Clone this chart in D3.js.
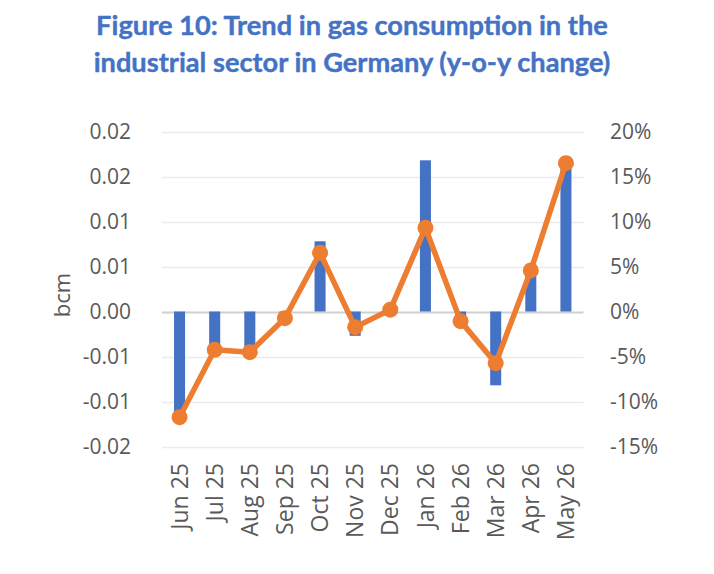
<!DOCTYPE html>
<html>
<head>
<meta charset="utf-8">
<script src="https://cdn.jsdelivr.net/npm/d3@7"></script>
<style>
  html, body { margin: 0; padding: 0; background: #ffffff; }
  svg { display: block; }
</style>
</head>
<body>
<svg id="chart" width="714" height="574"></svg>
<script>
// ---- Data ----
const titleLines = [
  "Figure 10: Trend in gas consumption in the",
  "industrial sector in Germany (y-o-y change)"
];
const months = ["Jun 25", "Jul 25", "Aug 25", "Sep 25", "Oct 25", "Nov 25",
                "Dec 25", "Jan 26", "Feb 26", "Mar 26", "Apr 26", "May 26"];
// y-o-y change in bcm (bars, left axis)
const bcmChange = [-0.0113, -0.0042, -0.0042, -0.0005, 0.0078, -0.0027,
                   0.0003, 0.0168, -0.0010, -0.0082, 0.0045, 0.0163];
// y-o-y change in % (line, right axis)
const pctChange = [-0.1174, -0.0426, -0.0452, -0.0074, 0.0652, -0.0174,
                   0.0020, 0.0930, -0.0107, -0.0574, 0.0456, 0.1648];
const leftTicks = [-0.015, -0.01, -0.005, 0, 0.005, 0.01, 0.015, 0.02];
const leftTickLabels = ["-0.02", "-0.01", "-0.01", "0.00", "0.01", "0.01", "0.02", "0.02"];
const rightTicks = [-0.15, -0.10, -0.05, 0, 0.05, 0.10, 0.15, 0.20];
const rightTickLabels = ["-15%", "-10%", "-5%", "0%", "5%", "10%", "15%", "20%"];
const leftAxisTitle = "bcm";

// ---- Layout ----
const svg = d3.select("#chart");
const plot = { left: 162, right: 583.5, top: 131.5, bottom: 446.5 };
const barColor = "#4472C4";
const lineColor = "#ED7D31";
const textColor = "#595959";
const axisFont = "'Open Sans', 'DejaVu Sans', sans-serif";

const x = d3.scaleBand()
  .domain(months)
  .range([plot.left, plot.right])
  .paddingInner(0.686)
  .paddingOuter(0.343);

const yL = d3.scaleLinear().domain([-0.015, 0.02]).range([plot.bottom, plot.top]);
const yR = d3.scaleLinear().domain([-0.15, 0.20]).range([plot.bottom, plot.top]);

// ---- Title ----
const title = svg.append("g").attr("class", "title");
const titleY = [35, 72];
titleLines.forEach((t, i) => {
  const tx = title.append("text")
    .attr("x", 352)
    .attr("y", titleY[i])
    .attr("text-anchor", "middle")
    .attr("font-family", "Lato, 'Open Sans', sans-serif")
    .attr("font-weight", "bold")
    .attr("font-size", 26)
    .attr("fill", barColor)
    .attr("stroke", barColor)
    .attr("stroke-width", 0.4)
    .text(t);
  const len = tx.node().getComputedTextLength();
  const target = i === 0 ? 512 : 517;
  tx.attr("font-size", 26 * target / len);
});

// ---- Gridlines ----
const grid = svg.append("g").attr("class", "grid");
grid.selectAll("line")
  .data(leftTicks)
  .join("line")
  .attr("x1", plot.left)
  .attr("x2", plot.right)
  .attr("y1", d => Math.round(yL(d)) + 0.5)
  .attr("y2", d => Math.round(yL(d)) + 0.5)
  .attr("stroke", d => d === 0 ? "#D0D0D0" : "#EBEBEB")
  .attr("stroke-width", d => d === 0 ? 2 : 1.5);

// ---- Bars ----
svg.append("g").attr("class", "bars")
  .selectAll("rect")
  .data(months.map((m, i) => ({ m, v: bcmChange[i] })))
  .join("rect")
  .attr("x", d => x(d.m))
  .attr("width", x.bandwidth())
  .attr("y", d => yL(Math.max(0, d.v)))
  .attr("height", d => Math.abs(yL(d.v) - yL(0)))
  .attr("fill", barColor);

// ---- Line ----
const pts = months.map((m, i) => ({ m, v: pctChange[i] }));
const line = d3.line()
  .x(d => x(d.m) + x.bandwidth() / 2)
  .y(d => yR(d.v));
svg.append("path")
  .datum(pts)
  .attr("d", line)
  .attr("fill", "none")
  .attr("stroke", lineColor)
  .attr("stroke-width", 5.5)
  .attr("stroke-linejoin", "round");
svg.append("g").attr("class", "dots")
  .selectAll("circle")
  .data(pts)
  .join("circle")
  .attr("cx", d => x(d.m) + x.bandwidth() / 2)
  .attr("cy", d => yR(d.v))
  .attr("r", 8)
  .attr("fill", lineColor);

// ---- Axes ----
const leftAxis = d3.axisLeft(yL)
  .tickValues(leftTicks)
  .tickFormat((d, i) => leftTickLabels[i])
  .tickSize(0)
  .tickPadding(0);
const gL = svg.append("g")
  .attr("transform", `translate(131,0)`)
  .call(leftAxis);
gL.select(".domain").remove();
gL.selectAll("text")
  .attr("font-family", axisFont)
  .attr("font-size", 21)
  .attr("fill", textColor);

const rightAxis = d3.axisRight(yR)
  .tickValues(rightTicks)
  .tickFormat((d, i) => rightTickLabels[i])
  .tickSize(0)
  .tickPadding(0);
const gR = svg.append("g")
  .attr("transform", `translate(610,0)`)
  .call(rightAxis);
gR.select(".domain").remove();
gR.selectAll("text")
  .attr("font-family", axisFont)
  .attr("font-size", 21)
  .attr("fill", textColor);

const bottomAxis = d3.axisBottom(x).tickSize(0).tickPadding(0);
const gB = svg.append("g")
  .attr("transform", `translate(0,463)`)
  .call(bottomAxis);
gB.select(".domain").remove();
gB.selectAll("text")
  .attr("font-family", axisFont)
  .attr("font-size", 23)
  .attr("fill", textColor)
  .attr("text-anchor", "end")
  .attr("dy", "0.35em")
  .attr("transform", "rotate(-90)")
  .attr("x", 0)
  .attr("y", 0);

svg.append("text")
  .attr("transform", "translate(70,295) rotate(-90)")
  .attr("text-anchor", "middle")
  .attr("font-family", axisFont)
  .attr("font-size", 22)
  .attr("fill", textColor)
  .text(leftAxisTitle);
</script>
</body>
</html>
